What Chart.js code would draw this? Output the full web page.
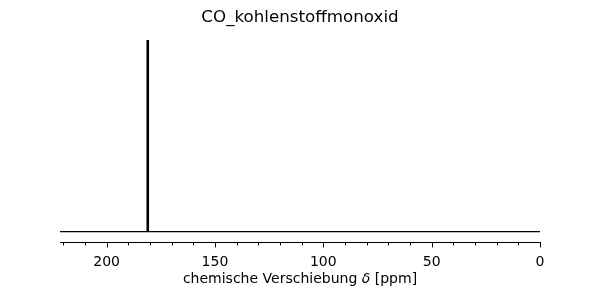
<!DOCTYPE html>
<html>
<head>
<meta charset="utf-8">
<script src="https://cdn.jsdelivr.net/npm/chart.js@4.4.1/dist/chart.umd.min.js"></script>
<style>
    body { margin: 0; background: #fff; }
    canvas { display: block; }
</style>
</head>
<body>
<canvas id="nmrChart" width="600" height="300"></canvas>
<script>
// Spectrum data (13C NMR, ppm)
const chartTitle = 'CO_kohlenstoffmonoxid';
const axisTitleParts = ['chemische Verschiebung ', 'δ', ' [ppm]'];   // middle part is italic
const shiftRange = [221.5, 0];      // left / right limits of the spectrum
const peakShifts = [181.0];
const peakHeights = [1];
const majorTicks = [200, 150, 100, 50, 0];
const minorTicks = [220, 210, 190, 180, 170, 160, 140, 130, 120, 110, 90, 80, 70, 60, 40, 30, 20, 10];

Chart.defaults.color = '#000';
Chart.defaults.font.family = "'DejaVu Sans', sans-serif";

// Baseline across the full range
const baseline = shiftRange.map(x => ({ x: x, y: 0 }));

// One vertical stick per peak
const peaks = [];
peakShifts.forEach((s, i) => {
    peaks.push({ x: s, y: 0 }, { x: s, y: peakHeights[i] }, { x: NaN, y: NaN });
});

// Draw major/minor tick marks below the x axis, and the axis title with italic delta
const axisExtras = {
    id: 'axisExtras',
    afterDraw(chart) {
        const scale = chart.scales.x;
        const ctx = chart.ctx;
        const top = scale.top;
        ctx.save();
        ctx.strokeStyle = '#000';
        ctx.lineWidth = 1;
        const draw = (v, len) => {
            const px = Math.round(scale.getPixelForValue(v)) + 0.5;
            ctx.beginPath();
            ctx.moveTo(px, top);
            ctx.lineTo(px, top + len);
            ctx.stroke();
        };
        majorTicks.forEach(v => draw(v, 5));
        minorTicks.forEach(v => draw(v, 3));

        // axis title (space is reserved by the scale title, drawn here)
        const fam = "'DejaVu Sans', sans-serif";
        const fonts = ['14px ' + fam, 'italic 14px ' + fam, '14px ' + fam];
        let total = 0;
        const widths = axisTitleParts.map((t, i) => {
            ctx.font = fonts[i];
            const w = ctx.measureText(t).width;
            total += w;
            return w;
        });
        let x = (chart.chartArea.left + chart.chartArea.right) / 2 - total / 2;
        const y = scale.bottom - 7 - 8.4;
        ctx.fillStyle = '#000';
        ctx.textBaseline = 'middle';
        ctx.textAlign = 'left';
        axisTitleParts.forEach((t, i) => {
            ctx.font = fonts[i];
            ctx.fillText(t, x, y);
            x += widths[i];
        });
        ctx.restore();
    }
};

new Chart(document.getElementById('nmrChart'), {
    type: 'line',
    data: {
        datasets: [
            {
                data: baseline,
                borderColor: '#000',
                borderWidth: 1.2,
                pointRadius: 0
            },
            {
                data: peaks,
                borderColor: '#000',
                borderWidth: 2.6,
                pointRadius: 0,
                spanGaps: false
            }
        ]
    },
    options: {
        responsive: false,
        animation: false,
        layout: { padding: { left: 60, right: 60, top: 0, bottom: 5 } },
        plugins: {
            legend: { display: false },
            tooltip: { enabled: false },
            title: {
                display: true,
                text: chartTitle,
                font: { size: 16.7, weight: 'normal' },
                padding: { top: 8, bottom: 1.3 }
            }
        },
        scales: {
            x: {
                type: 'linear',
                reverse: true,
                min: shiftRange[1],
                max: shiftRange[0],
                afterBuildTicks: scale => {
                    scale.ticks = majorTicks.map(v => ({ value: v }));
                },
                grid: { drawOnChartArea: false, drawTicks: false },
                border: { display: true, color: '#000', width: 1 },
                ticks: { font: { size: 14 }, padding: 12, maxRotation: 0 },
                title: {
                    display: true,
                    text: axisTitleParts.join(''),
                    color: 'rgba(0,0,0,0)',
                    font: { size: 14 },
                    padding: { top: -12, bottom: 7 }
                }
            },
            y: {
                display: false,
                min: -0.056,
                max: 1.056
            }
        }
    },
    plugins: [axisExtras]
});
</script>
</body>
</html>
